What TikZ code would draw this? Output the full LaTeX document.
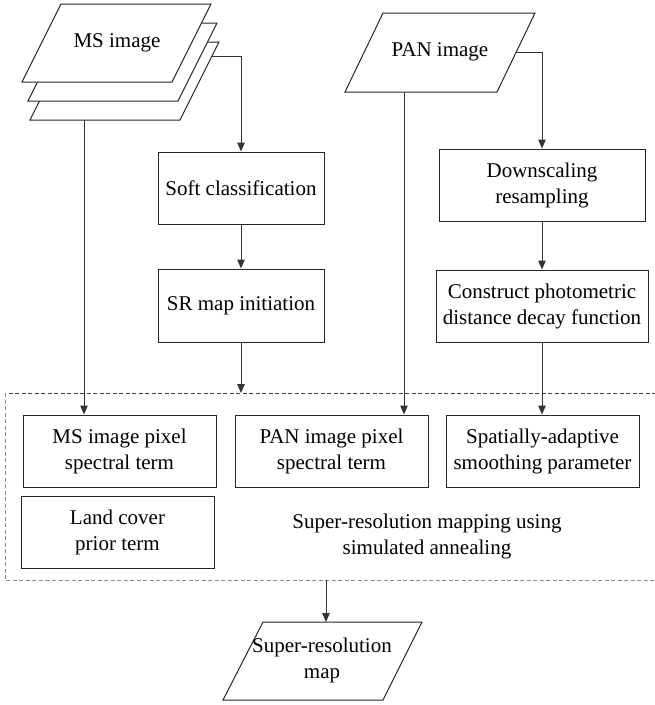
\documentclass[tikz,border=0pt]{standalone}
\usepackage{fontspec}
\setmainfont{Liberation Serif}
\usetikzlibrary{arrows.meta}
\tikzset{
	box/.style={draw=black!85, line width=1pt, fill=white, align=center, inner sep=2pt,
		minimum height=72pt, font=\fontsize{21}{26}\selectfont},
	sheet/.style={draw=black!85, line width=1pt, fill=white},
	lbl/.style={align=center, inner sep=0pt, font=\fontsize{21}{26}\selectfont},
	flow/.style={draw=black!80, line width=1pt, -{Triangle[length=9pt,width=7.5pt]}},
}
\begin{document}
\begin{tikzpicture}[x=1pt, y=-1pt]
	\useasboundingbox (0,0) rectangle (655,705);
	% MS image: three stacked sheets, back one first
	\foreach \dx/\dy in {8/38, 6/19, 0/0}
	{
		\filldraw[sheet] (61+\dx,4+\dy) -- (211+\dx,4+\dy) -- (172+\dx,82+\dy) -- (22+\dx,82+\dy) -- cycle;
	}
	\node[lbl] (ms) at (117,43) {MS image};
	\coordinate (msout) at (212,56);
	\coordinate (msbot) at (84,120);
	% PAN image
	\filldraw[sheet] (383,13) -- (535,13) -- (497,92) -- (345,92) -- cycle;
	\node[lbl] (pan) at (440,52) {PAN image};
	\coordinate (panout) at (516,52);
	\coordinate (panbot) at (404,92);
	% preprocessing steps
	\node[box, minimum width=166pt] (soft) at (241,188) {Soft classification};
	\node[box, minimum width=166pt, minimum height=73pt] (srinit) at (241,305.5) {SR map initiation};
	\node[box, minimum width=206pt] (down) at (542,185) {Downscaling\\resampling};
	\node[box, minimum width=212pt] (photo) at (542,306) {Construct photometric\\distance decay function};
	% simulated annealing frame (right side runs off the page)
	\coordinate (frameNW) at (5,393);
	\coordinate (frameSW) at (5,580);
	\draw[dashed, dash pattern=on 4pt off 2.5pt, black!75, line width=0.8pt] (656,393) -- (frameNW);
	\draw[dashed, dash pattern=on 4pt off 2.5pt, black!45, line width=0.8pt] (frameNW) -- (frameSW) -- (656,580);
	% energy terms
	\node[box, minimum width=193pt] (mspix) at (119.5,451) {MS image pixel\\spectral term};
	\node[box, minimum width=193pt] (panpix) at (331.5,451) {PAN image pixel\\spectral term};
	\node[box, minimum width=193pt] (smooth) at (542.5,451) {Spatially-adaptive\\smoothing parameter};
	\node[box, minimum width=193pt] (prior) at (117.5,532) {Land cover\\prior term};
	\node[lbl] (sa) at (427,536) {Super-resolution mapping using\\simulated annealing};
	% output
	\filldraw[sheet] (263,622) -- (422,622) -- (383,700) -- (223,700) -- cycle;
	\node[lbl] (srmap) at (322,660) {Super-resolution\\map};
	\coordinate (outtop) at (326,622);
	% connectors
	\draw[flow] (msout) -| (soft);
	\draw[flow] (panout) -| (down);
	\draw[flow] (msbot) -- (msbot |- mspix.north);
	\draw[flow] (panbot) -- (panbot |- panpix.north);
	\draw[flow] (soft) -- (srinit);
	\draw[flow] (down) -- (photo);
	\draw[flow] (photo.south) -- (photo.south |- smooth.north);
	\draw[flow] (srinit) -- (srinit.south |- frameNW);
	\draw[flow] (frameSW -| outtop) -- (outtop);
\end{tikzpicture}
\end{document}
